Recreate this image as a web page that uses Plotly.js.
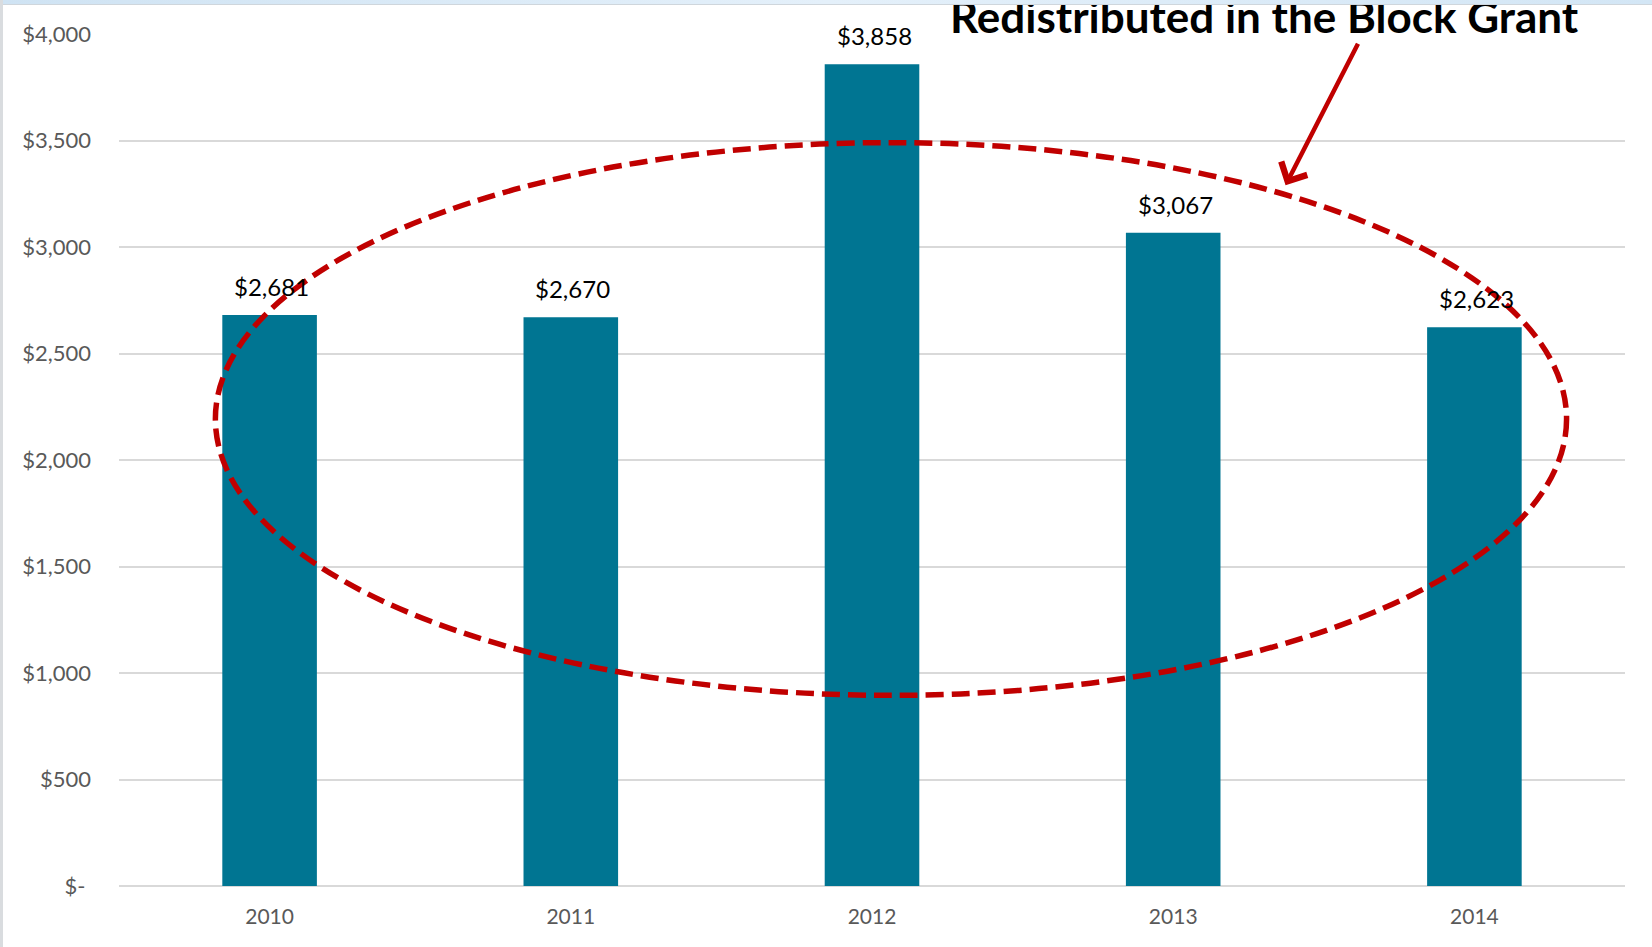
<!DOCTYPE html>
<html>
<head>
<meta charset="utf-8">
<script src="https://cdn.plot.ly/plotly-3.0.1.min.js"></script>
<style>
  html, body { margin: 0; padding: 0; background: #ffffff; }
  #chart { position: absolute; left: 0; top: 0; width: 1652px; height: 947px; }
  #topstrip { position: absolute; left: 0; top: 0; width: 1652px; height: 4px;
              background: linear-gradient(to right, #cfe3f3, #e4f0fa, #d3e6f5); border-bottom: 1px solid #cfd6dc; pointer-events: none; }
  #leftstrip { position: absolute; left: 0; top: 0; width: 3px; height: 947px; background: #d9dcdf; pointer-events: none; }
</style>
</head>
<body>
<div id="chart"></div>
<div id="topstrip"></div>
<div id="leftstrip"></div>
<script>
// ---- data ----
const years = ['2010', '2011', '2012', '2013', '2014'];
const amounts = [2681, 2670, 3858, 3067, 2623];
const amountLabels = ['$2,681', '$2,670', '$3,858', '$3,067', '$2,623'];
const yTickValues = [0, 500, 1000, 1500, 2000, 2500, 3000, 3500, 4000];
const yTickLabels = ['$-\u00a0', '$500', '$1,000', '$1,500', '$2,000', '$2,500', '$3,000', '$3,500', '$4,000'];
const calloutText = 'Redistributed in the Block Grant';

const FONT = 'Lato, "Open Sans", "Noto Sans", sans-serif';
const RED = '#c00000';

const barTrace = {
  type: 'bar',
  x: years,
  y: amounts,
  marker: { color: '#007592' },
  hoverinfo: 'skip'
};

// annotations on a category axis are placed by category index
const labelAnnotations = years.map((yr, i) => ({
  x: i, y: amounts[i], xref: 'x', yref: 'y',
  text: amountLabels[i], showarrow: false,
  yanchor: 'bottom', xanchor: 'center', yshift: 12, xshift: 2,
  font: { family: FONT, size: 24, color: '#000000' }
}));

const layout = {
  width: 1652, height: 947,
  margin: { l: 119, r: 27, t: 34, b: 61, pad: 0 },
  paper_bgcolor: '#ffffff', plot_bgcolor: '#ffffff',
  showlegend: false,
  bargap: 0.686,
  font: { family: FONT, color: '#595959' },
  xaxis: {
    type: 'category',
    categoryarray: years, categoryorder: 'array',
    range: [-0.5, 4.5], autorange: false,
    showgrid: false, zeroline: false, showline: false,
    ticks: '', ticklabelstandoff: 16,
    tickfont: { family: FONT, size: 21, color: '#595959' },
    fixedrange: true
  },
  yaxis: {
    range: [0, 4000], autorange: false,
    tickmode: 'array', tickvals: yTickValues, ticktext: yTickLabels,
    showgrid: true, gridcolor: '#d9d9d9', gridwidth: 2,
    zeroline: true, zerolinecolor: '#d9d9d9', zerolinewidth: 2,
    showline: false, ticks: '', ticklabelstandoff: 27,
    tickfont: { family: FONT, size: 22, color: '#595959' },
    fixedrange: true
  },
  shapes: [
    {
      type: 'circle', xref: 'x', yref: 'y',
      x0: -0.180, x1: 4.306, y0: 895, y1: 3490,
      line: { color: RED, width: 5.5, dash: '18px,8px' },
      fillcolor: 'rgba(0,0,0,0)'
    }
  ],
  annotations: labelAnnotations.concat([
    {
      xref: 'paper', yref: 'paper', x: 0.7605, y: 1, xanchor: 'center', yanchor: 'bottom',
      yshift: -10,
      text: '<b>' + calloutText + '</b>', showarrow: false,
      font: { family: FONT, size: 44, color: '#000000' }
    },
    {
      xref: 'x', yref: 'y', x: 3.373, y: 3290,
      axref: 'x', ayref: 'y', ax: 3.616, ay: 3961,
      text: '', showarrow: true,
      arrowhead: 4, arrowsize: 1.25, arrowwidth: 4.5, arrowcolor: RED
    }
  ])
};

Plotly.newPlot('chart', [barTrace], layout, { displayModeBar: false, staticPlot: true });
</script>
</body>
</html>
